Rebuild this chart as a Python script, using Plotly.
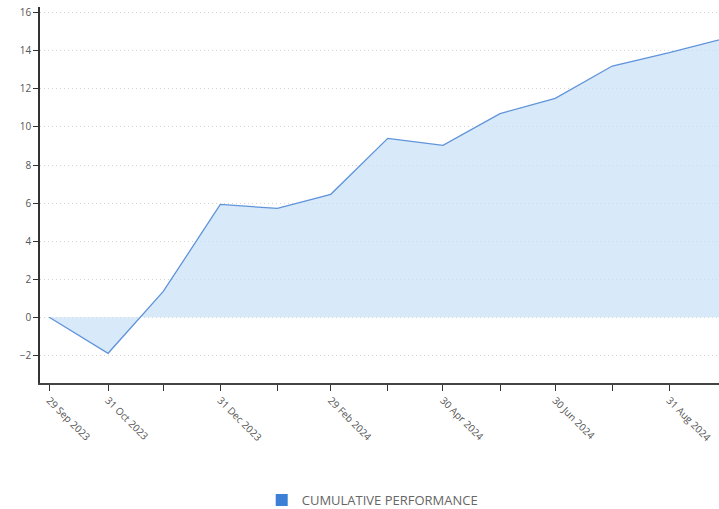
import plotly.graph_objects as go

dates = ["2023-09-29", "2023-10-31", "2023-11-30", "2023-12-31", "2024-01-31", "2024-02-29",
         "2024-03-31", "2024-04-30", "2024-05-31", "2024-06-30", "2024-07-31", "2024-08-31", "2024-09-30"]
values = [0.0, -1.89, 1.36, 5.93, 5.72, 6.46, 9.4, 9.03, 10.7, 11.5, 13.2, 13.9, 14.65]

tick_dates = ["2023-09-29", "2023-10-31", "2023-11-30", "2023-12-31", "2024-01-31", "2024-02-29",
              "2024-03-31", "2024-04-30", "2024-05-31", "2024-06-30", "2024-07-31", "2024-08-31"]
tick_labels = ["29 Sep 2023", "31 Oct 2023", "", "31 Dec 2023", "", "29 Feb 2024",
               "", "30 Apr 2024", "", "30 Jun 2024", "", "31 Aug 2024"]
y_ticks = [-2, 0, 2, 4, 6, 8, 10, 12, 14, 16]
series_name = "CUMULATIVE PERFORMANCE"

line_color = "#5f93da"
fill_color = "rgba(200,225,247,0.7)"

fig = go.Figure()
fig.add_trace(go.Scatter(
    x=dates, y=values, mode="lines", fill="tozeroy",
    line=dict(color=line_color, width=1.3), fillcolor=fill_color,
    showlegend=False, hoverinfo="x+y"))
fig.add_trace(go.Scatter(
    x=[None], y=[None], mode="markers", name=series_name,
    marker=dict(symbol="square", size=10, color="#3b7fd6")))

fig.update_layout(
    width=719, height=509,
    margin=dict(l=40, r=0, t=7, b=126, autoexpand=False),
    paper_bgcolor="white", plot_bgcolor="white",
    font=dict(family="Open Sans, Arial, sans-serif", size=10, color="#555"),
    showlegend=True,
    legend=dict(orientation="h", x=0.49, xanchor="center", y=-0.311, yanchor="middle",
                font=dict(size=13, color="#666"), itemsizing="constant"),
    xaxis=dict(
        type="date", range=["2023-09-24", "2024-09-27"], automargin=False,
        tickvals=tick_dates, ticktext=tick_labels, tickangle=45,
        ticks="outside", ticklen=6, tickcolor="#333", tickwidth=1,
        showline=True, linecolor="#444", linewidth=1.5,
        showgrid=False, zeroline=False,
        tickfont=dict(size=10, color="#555")),
    yaxis=dict(
        range=[-3.45, 16.3], tickvals=y_ticks, automargin=False,
        ticks="outside", ticklen=5, tickcolor="#333",
        showline=True, linecolor="#333", linewidth=1.5,
        showgrid=True, gridcolor="#d4d4d4", griddash="1px,3px", gridwidth=1,
        zeroline=False, tickfont=dict(size=10, color="#555")),
)

fig.write_html("out.html")
